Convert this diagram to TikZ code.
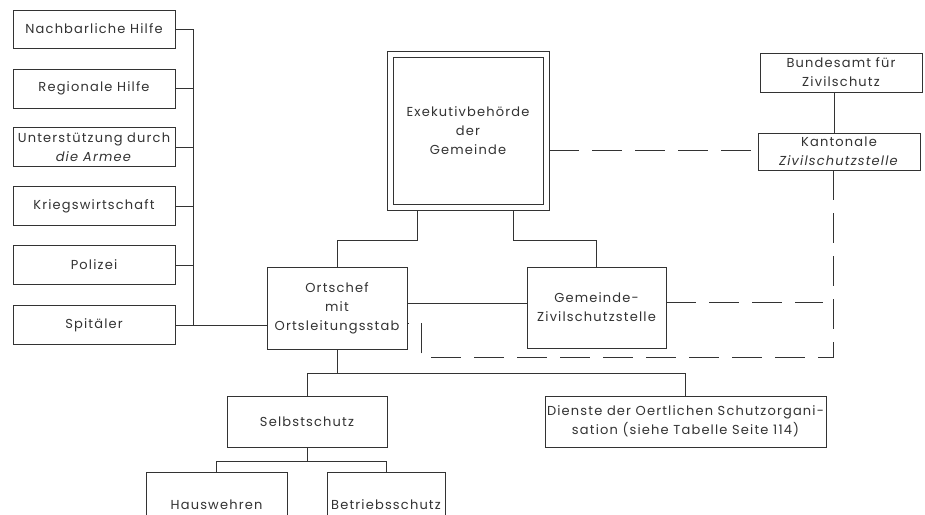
\documentclass[tikz,border=0pt]{standalone}
\usepackage{fontspec}
\setmainfont{Poppins}[LetterSpace=9]
\usetikzlibrary{calc}
\definecolor{ink}{HTML}{333333}
\tikzset{
  box/.style={draw=ink, line width=0.7pt, rectangle, inner sep=2pt, align=center,
    text=ink, font=\fontsize{13}{19}\selectfont},
  conn/.style={draw=ink, line width=0.7pt},
  dashconn/.style={draw=ink, line width=0.7pt, dash pattern=on 30pt off 13pt},
}
\begin{document}
\begin{tikzpicture}[x=1pt,y=-1pt]
\useasboundingbox (0,0) rectangle (925,514);
\clip (0,0) rectangle (925,514);
\fill[white] (0,0) rectangle (925,514);

% left column
\node[box, minimum width=162pt, minimum height=38pt] (nh) at (94,29) {Nachbarliche Hilfe};
\node[box, minimum width=162pt, minimum height=39pt] (rg) at (94,88.5) {Regionale Hilfe};
\node[box, minimum width=162pt, minimum height=39pt] (ua) at (94,147) {Unterstützung durch\\\textit{die Armee}};
\node[box, minimum width=162pt, minimum height=39pt] (kw) at (94,206) {Kriegswirtschaft};
\node[box, minimum width=162pt, minimum height=39pt] (po) at (94,265) {Polizei};
\node[box, minimum width=162pt, minimum height=39pt] (sp) at (94,325) {Spitäler};

% centre
\node[box, minimum width=162pt, minimum height=159pt] (exe) at (468,130.5) {Exekutivbehörde\\der\\Gemeinde};
\draw[conn] ([shift={(6.5pt,6.5pt)}]exe.south west) rectangle ([shift={(-6.5pt,-6.5pt)}]exe.north east);
\node[box, minimum width=140pt, minimum height=82pt] (ort) at (337,308) {Ortschef\\mit\\Ortsleitungsstab};
\node[box, minimum width=139pt, minimum height=81pt] (gz) at (596.5,307.5) {Gemeinde-\\Zivilschutzstelle};

% right
\node[box, minimum width=162pt, minimum height=39pt] (bund) at (841,72.5) {Bundesamt für\\Zivilschutz};
\node[box, minimum width=162pt, minimum height=37pt] (kant) at (839,151.5) {Kantonale\\\textit{Zivilschutzstelle}};

% lower
\node[box, minimum width=160pt, minimum height=51pt] (sel) at (307,421.5) {Selbstschutz};
\node[box, minimum width=281pt, minimum height=51pt, inner sep=1pt] (dien) at (685.5,421.5) {Dienste der Oertlichen Schutzorgani-\\sation (siehe Tabelle Seite 114)};
\node[box, minimum width=141pt, minimum height=66pt] (hw) at (216.5,505) {Hauswehren};
\node[box, minimum width=118pt, minimum height=66pt] (bs) at (386,505) {Betriebsschutz};

% left trunk
\draw[conn] ($(nh.east)+(18,0)$) -- ($(sp.east)+(18,0)$);
\draw[conn] (nh.east) -- ++(18,0);
\draw[conn] (rg.east) -- ++(18,0);
\draw[conn] (ua.east) -- ++(18,0);
\draw[conn] (kw.east) -- ++(18,0);
\draw[conn] (po.east) -- ++(18,0);
\draw[conn] (sp.east) -- (sp.east -| ort.west);

% solid connectors
\draw[conn] ([xshift=-51pt]exe.south) |- ($(ort.north)+(0,-26)$) -- (ort.north);
\draw[conn] ([xshift=45pt]exe.south) |- ($(gz.north)+(0,-26)$) -- (gz.north);
\draw[conn] ([yshift=5pt]ort.east) -- ([yshift=5pt]ort.east -| gz.west);
\draw[conn] (ort.south) -- ++(0,24) coordinate (j1);
\draw[conn] (sel.north) |- (j1) -| (dien.north);
\draw[conn] (sel.south) -- ++(0,14) coordinate (j2);
\draw[conn] (hw.north) |- (j2) -| (bs.north);
\draw[conn] ([xshift=-7pt]bund.south) -- ([xshift=-7pt]bund.south |- kant.north);

% dashed connectors
\draw[dashconn] ([yshift=-19.5pt]exe.east) -- ([yshift=-19.5pt]exe.east -| kant.west);
\draw[dashconn] ([yshift=5.5pt]gz.east) -- ($([yshift=5.5pt]gz.east -| kant.south)+(-16,0)$);
\draw[dashconn] ([xshift=-6pt]kant.south) |- ($(ort.east)+(14,49)$) |- ([yshift=-15pt]ort.east);
\end{tikzpicture}
\end{document}
